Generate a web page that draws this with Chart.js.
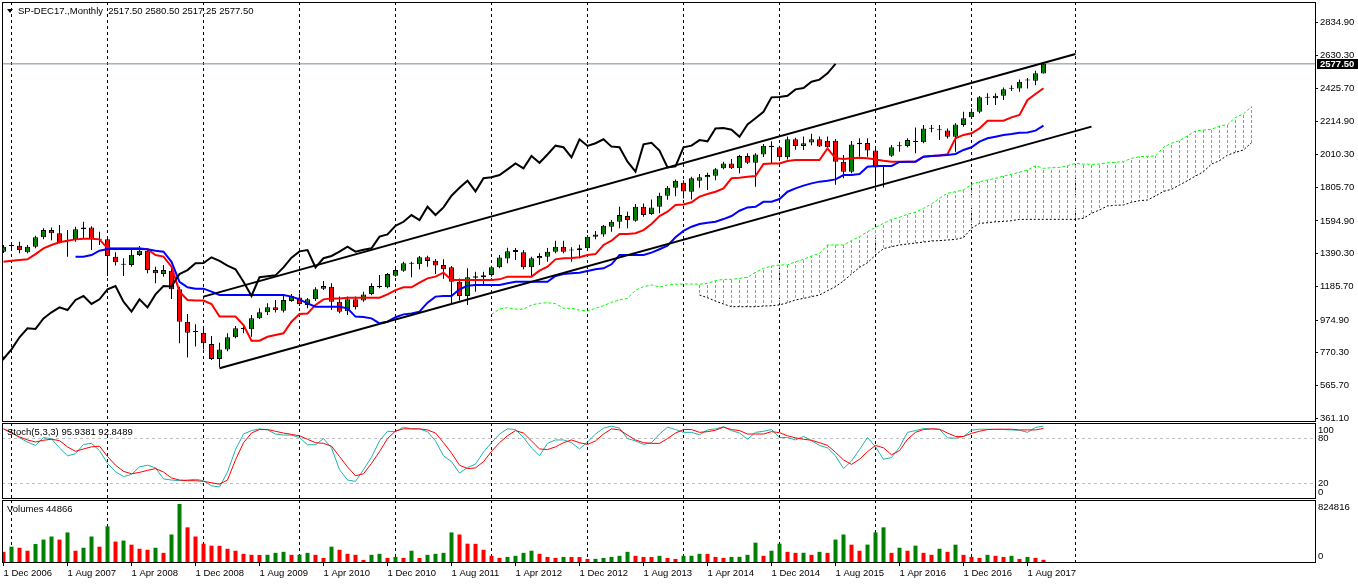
<!DOCTYPE html>
<html>
<head>
<meta charset="utf-8">
<title>SP-DEC17 Monthly</title>
<script src="https://cdn.jsdelivr.net/npm/chart.js@4.4.1/dist/chart.umd.min.js"></script>
<style>
  html, body { margin: 0; padding: 0; background: #fff; }
  #wrap { position: relative; width: 1358px; height: 584px; overflow: hidden; }
  #wrap canvas { position: absolute; left: 0; }
</style>
</head>
<body>
<div id="wrap">
  <canvas id="mainChart" width="1358" height="423" style="top:0"></canvas>
  <canvas id="stochChart" width="1358" height="76" style="top:423px"></canvas>
  <canvas id="volChart" width="1358" height="84" style="top:500px"></canvas>
</div>
<script>
// ---- data (one entry per monthly bar, Dec 2006 .. Oct 2017) ----
const symbolName = "SP-DEC17.,Monthly";
const xTickLabels = ["1 Dec 2006", "1 Aug 2007", "1 Apr 2008", "1 Dec 2008", "1 Aug 2009", "1 Apr 2010",
  "1 Dec 2010", "1 Aug 2011", "1 Apr 2012", "1 Dec 2012", "1 Aug 2013", "1 Apr 2014", "1 Dec 2014",
  "1 Aug 2015", "1 Apr 2016", "1 Dec 2016", "1 Aug 2017"];
const labelEvery = 8;
const yearLineBars = [1, 13, 25, 37, 49, 61, 73, 85, 97, 109, 121, 134];
const priceTicks = [361.10, 565.70, 770.30, 974.90, 1185.70, 1390.30, 1594.90, 1805.70,
  2010.30, 2214.90, 2425.70, 2630.30, 2834.90];

const opens = [
  1403, 1438, 1440, 1399, 1434, 1493, 1538, 1518, 1470, 1480,
  1543, 1555, 1482, 1480, 1372, 1322, 1320, 1382, 1409, 1288,
  1264, 1284, 1168, 965, 900, 896, 825, 732, 792, 868,
  924, 918, 986, 1024, 1055, 1034, 1094, 1117, 1070, 1105,
  1172, 1184, 1090, 1030, 1105, 1097, 1138, 1182, 1180, 1253,
  1284, 1328, 1324, 1368, 1347, 1320, 1305, 1215, 1126, 1240,
  1243, 1257, 1305, 1360, 1401, 1399, 1305, 1362, 1372, 1403,
  1434, 1411, 1413, 1424, 1497, 1511, 1559, 1590, 1626, 1597,
  1684, 1638, 1684, 1753, 1803, 1834, 1778, 1847, 1868, 1878,
  1924, 1955, 1924, 2001, 1959, 2011, 2066, 2056, 1993, 2106,
  2064, 2085, 2106, 2097, 2097, 1966, 1903, 2075, 2082, 2035,
  1932, 2003, 2062, 2064, 2089, 2087, 2172, 2162, 2160, 2122,
  2195, 2243, 2278, 2366, 2362, 2378, 2422, 2424, 2474, 2472,
  2517.50];
const highs = [
  1445, 1455, 1465, 1445, 1503, 1549, 1555, 1570, 1538, 1559,
  1590, 1562, 1528, 1493, 1399, 1362, 1418, 1439, 1424, 1309,
  1320, 1309, 1184, 1013, 949, 927, 876, 834, 893, 938,
  944, 1007, 1049, 1080, 1101, 1132, 1138, 1142, 1113, 1180,
  1220, 1205, 1122, 1122, 1122, 1153, 1205, 1257, 1270, 1299,
  1340, 1340, 1376, 1378, 1357, 1355, 1313, 1236, 1299, 1278,
  1278, 1315, 1382, 1428, 1426, 1413, 1372, 1393, 1426, 1472,
  1472, 1430, 1447, 1507, 1532, 1570, 1601, 1684, 1653, 1701,
  1705, 1730, 1772, 1814, 1855, 1849, 1872, 1889, 1897, 1926,
  1966, 1983, 2007, 2018, 2018, 2076, 2093, 2066, 2124, 2116,
  2124, 2141, 2124, 2124, 2107, 2007, 2095, 2112, 2112, 2056,
  1945, 2070, 2091, 2112, 2180, 2195, 2195, 2195, 2174, 2206,
  2278, 2299, 2376, 2393, 2393, 2430, 2443, 2480, 2489, 2534,
  2580.50];
const lows = [
  1395, 1424, 1393, 1393, 1424, 1480, 1474, 1455, 1372, 1465,
  1486, 1414, 1445, 1251, 1316, 1251, 1309, 1376, 1268, 1205,
  1247, 1107, 830, 742, 810, 792, 725, 680, 780, 861,
  893, 871, 982, 1007, 1022, 1022, 1090, 1063, 1049, 1094,
  1163, 1038, 1018, 1007, 1042, 1090, 1130, 1174, 1174, 1247,
  1278, 1243, 1293, 1309, 1263, 1234, 1080, 1097, 1070, 1153,
  1195, 1247, 1299, 1330, 1351, 1293, 1251, 1320, 1340, 1393,
  1393, 1340, 1362, 1413, 1480, 1497, 1528, 1549, 1549, 1590,
  1622, 1632, 1643, 1728, 1749, 1736, 1730, 1803, 1789, 1849,
  1918, 1920, 1893, 1951, 1809, 1995, 1955, 1972, 1980, 2041,
  2039, 2068, 2058, 2047, 1822, 1862, 1893, 1997, 1997, 1805,
  1805, 1997, 2028, 2056, 2018, 2081, 2150, 2101, 2111, 2028,
  2185, 2237, 2268, 2320, 2320, 2351, 2407, 2403, 2424, 2443,
  2517.25];
const closes = [
  1434, 1442, 1413, 1434, 1493, 1538, 1518, 1462, 1476, 1543,
  1555, 1486, 1478, 1376, 1337, 1328, 1384, 1409, 1288, 1268,
  1288, 1168, 965, 896, 905, 830, 732, 792, 868, 924,
  920, 986, 1024, 1055, 1038, 1101, 1126, 1076, 1105, 1168,
  1188, 1090, 1028, 1105, 1055, 1136, 1188, 1186, 1263, 1288,
  1330, 1332, 1368, 1345, 1316, 1293, 1215, 1126, 1243, 1250,
  1255, 1305, 1366, 1405, 1413, 1305, 1362, 1376, 1403, 1434,
  1403, 1415, 1424, 1497, 1511, 1565, 1590, 1632, 1601, 1684,
  1632, 1680, 1753, 1803, 1847, 1780, 1862, 1868, 1882, 1918,
  1955, 1924, 2001, 1959, 2011, 2066, 2056, 1993, 2106, 2064,
  2081, 2106, 2060, 2056, 1966, 1903, 2074, 2084, 2035, 1930,
  1936, 2056, 2066, 2101, 2093, 2174, 2176, 2166, 2122, 2199,
  2237, 2278, 2368, 2370, 2378, 2418, 2426, 2466, 2479, 2518,
  2577.50];

// Ichimoku lines as drawn
const tenkan = [
  1340, 1347, 1351, 1355, 1388, 1424, 1445, 1462, 1472, 1480,
  1484, 1484, 1480, 1424, 1424, 1424, 1424, 1424, 1418, 1382,
  1372, 1309, 1153, 1101, 1097, 1097, 1076, 997, 997, 997,
  944, 846, 846, 871, 882, 893, 965, 1013, 1017, 1070,
  1105, 1111, 1111, 1115, 1115, 1115, 1115, 1115, 1136, 1163,
  1180, 1180, 1209, 1236, 1247, 1272, 1226, 1226, 1226, 1226,
  1226, 1226, 1230, 1247, 1247, 1247, 1247, 1284, 1309, 1355,
  1362, 1364, 1368, 1382, 1388, 1445, 1472, 1514, 1514, 1518,
  1538, 1576, 1626, 1653, 1695, 1698, 1712, 1747, 1764, 1778,
  1799, 1862, 1866, 1872, 1876, 1951, 1955, 1955, 1970, 1976,
  1976, 1976, 1976, 2049, 1987, 1983, 1987, 1991, 1987, 1980,
  1972, 1966, 1966, 1966, 1966, 1997, 2001, 2005, 2012, 2112,
  2133, 2143, 2174, 2222, 2222, 2222, 2243, 2258, 2352, 2389,
  2425];
const kijunStart = 9;
const kijun = [
  1372,
  1372, 1382, 1409, 1420, 1420, 1420, 1420, 1420, 1418, 1409,
  1403, 1340, 1215, 1180, 1172, 1172, 1153, 1132, 1132, 1132,
  1132, 1132, 1132, 1132, 1132, 1132, 1122, 1105, 1080, 1059,
  1059, 1059, 1059, 1049, 997, 995, 986, 955, 965, 993,
  1011, 1017, 1028, 1084, 1122, 1126, 1126, 1168, 1190, 1195,
  1195, 1195, 1195, 1205, 1215, 1215, 1215, 1215, 1215, 1251,
  1263, 1268, 1272, 1282, 1293, 1299, 1324, 1382, 1382, 1382,
  1382, 1397, 1418, 1440, 1493, 1533, 1559, 1576, 1584, 1590,
  1607, 1626, 1659, 1680, 1684, 1715, 1715, 1732, 1778, 1799,
  1816, 1830, 1841, 1847, 1855, 1882, 1882, 1889, 1934, 1939,
  1939, 1939, 1964, 1966, 1966, 1997, 2001, 2005, 2007, 2014,
  2039, 2056, 2091, 2112, 2122, 2133, 2139, 2147, 2149, 2160,
  2191];
const chikouShift = 26;
const senkouAStart = 61;
const senkouA = [
  1011, 1044, 1053, 1044, 1043, 1070, 1080, 1084, 1078,
  1049, 1049, 1038, 1032, 1049, 1065, 1087, 1101, 1111, 1162,
  1184, 1195, 1182, 1195, 1199, 1201, 1201, 1199, 1205, 1222,
  1230, 1230, 1236, 1243, 1274, 1299, 1313, 1320, 1320, 1340,
  1355, 1376, 1393, 1445, 1445, 1445, 1472, 1497, 1528, 1555,
  1580, 1605, 1618, 1637, 1651, 1674, 1701, 1737, 1768, 1778,
  1789, 1824, 1841, 1851, 1862, 1876, 1887, 1900, 1914, 1941,
  1924, 1928, 1930, 1941, 1955, 1951, 1949, 1951, 1959, 1962,
  1966, 1987, 1997, 2000, 2001, 2056, 2081, 2097, 2128, 2158,
  2164, 2168, 2189, 2197, 2243, 2264, 2310];
const senkouBStart = 87;
const senkouB = [
  1132, 1115, 1094,
  1076, 1059, 1059, 1059, 1059, 1063, 1065, 1070, 1084, 1101,
  1111, 1122, 1132, 1159, 1184, 1220, 1263, 1305, 1334, 1382,
  1422, 1434, 1445, 1451, 1457, 1463, 1470, 1472, 1476, 1480,
  1491, 1549, 1580, 1584, 1590, 1592, 1597, 1605, 1605, 1605,
  1605, 1605, 1605, 1605, 1605, 1612, 1643, 1664, 1689, 1693,
  1695, 1712, 1722, 1726, 1751, 1780, 1793, 1820, 1847, 1876,
  1903, 1951, 1972, 2007, 2024, 2039, 2085];

// trend channel drawn on the chart: [bar, price] end points
const upperChannel = [[25, 1122], [134, 2639]];
const lowerChannel = [[27, 674], [136, 2185]];

// Stochastic(5,3,3)
const stochK = [
  92.3, 87.7, 80.5, 75, 70.5, 80.9, 79.1, 67.3, 56.8, 59.5,
  71.8, 73.2, 63.6, 46.8, 35.9, 29.5, 32.3, 42.3, 44.5, 40.9,
  26.4, 25, 24.1, 25, 25.9, 24.1, 17.3, 15.9, 35.5, 65,
  85.5, 90, 92.3, 90.9, 85.5, 84.1, 84.1, 80.9, 71.4, 71.4,
  79.5, 67.3, 38.6, 25, 23.2, 38.6, 55, 76.4, 89.1, 88.6,
  94.5, 92.3, 92.3, 88.6, 76.4, 56.8, 49.1, 34.1, 41.4, 45.9,
  61.8, 74.1, 85.5, 92.3, 91.4, 80.9, 67.3, 56.8, 73.2, 77.7,
  77.7, 74.1, 65.9, 75, 85.5, 93.2, 95.9, 93.2, 79.5, 76.4,
  71.8, 74.1, 85.5, 94.5, 91.4, 87.7, 87.7, 84.5, 90.9, 92.3,
  95, 90, 86.8, 78.6, 87.7, 89.1, 91.4, 80.9, 80.9, 77.7,
  82.3, 76.8, 70.5, 67.3, 56.8, 40, 50, 65, 80.9, 68.6,
  52.3, 54.5, 68.2, 87.7, 90, 92.7, 92.3, 91.4, 80.5, 80,
  82.3, 90.5, 91.8, 91.8, 91.4, 91.4, 90.9, 90.5, 87.7, 94.1,
  95.9381];
const stochD = [
  92.3, 86.8, 81.8, 77.7, 75, 77.3, 78.6, 76.8, 68.6, 62.7,
  65.9, 68.6, 69.5, 55.9, 44.5, 36.4, 33.2, 35, 37.7, 40,
  35.5, 27.7, 25, 24.1, 24.1, 23.2, 21.4, 19.5, 25, 51.4,
  74.1, 86.8, 91.4, 91.4, 89.1, 86.8, 85, 83.2, 78.6, 74.1,
  73.2, 69.5, 55.9, 42.3, 30.5, 33.2, 46.8, 62.3, 79.5, 89.5,
  92.3, 92.3, 92.3, 90.9, 86.8, 74.1, 60.5, 44.5, 40, 40.9,
  49.1, 62.7, 74.1, 83.2, 90, 86.8, 76.4, 65.9, 65, 68.6,
  74.1, 77.7, 74.1, 71.8, 76.4, 85.5, 92.3, 90.9, 84.1, 77.7,
  74.1, 73.2, 73.2, 79.5, 86.8, 91.4, 91.4, 87.7, 88.6, 90.5,
  94.5, 91.4, 90, 85.5, 85.5, 85.5, 88.6, 87.3, 83.2, 80.5,
  78.6, 77.3, 74.1, 70.5, 61.4, 51.4, 45.5, 52.3, 62.3, 70.5,
  67.3, 58.2, 63.6, 78.6, 87.7, 91.4, 92.3, 91.8, 86.8, 82.3,
  82.3, 86.4, 89.1, 91.4, 91.8, 91.8, 91.8, 90.9, 90.9, 90.9,
  92.8489];
const stochLevels = [20, 80];
const stochScaleLabels = [100, 80, 20, 0];

const volumes = [
  156000, 228000, 213000, 171000, 265000, 327000, 370000, 327000, 427000, 171000,
  213000, 370000, 228000, 512000, 299000, 313000, 256000, 199000, 185000, 213000,
  142000, 398000, 824816, 498000, 370000, 270000, 242000, 240000, 199000, 171000,
  128000, 114000, 113000, 115000, 142000, 156000, 114000, 116000, 142000, 114000,
  71000, 228000, 185000, 128000, 114000, 43000, 114000, 128000, 71000, 85000,
  71000, 171000, 70000, 114000, 128000, 142000, 427000, 398000, 270000, 268000,
  185000, 100000, 71000, 85000, 100000, 142000, 171000, 128000, 85000, 71000,
  85000, 84000, 83000, 57000, 58000, 71000, 85000, 100000, 156000, 100000,
  85000, 84000, 100000, 71000, 57000, 100000, 101000, 128000, 127000, 85000,
  71000, 85000, 86000, 114000, 284000, 100000, 171000, 270000, 156000, 142000,
  143000, 114000, 156000, 142000, 327000, 398000, 256000, 171000, 257000, 427000,
  498000, 142000, 213000, 171000, 242000, 142000, 114000, 199000, 156000, 256000,
  114000, 85000, 71000, 114000, 100000, 85000, 100000, 57000, 85000, 71000,
  44866];

// ---- look ----
const FONT = "'Liberation Sans', Arial, sans-serif";
const GREEN = "#008000", RED = "#ff0000";
const X_MIN = -0.1875, X_MAX = 163.9375;
const AXIS_W = 43;

Chart.defaults.font.family = FONT;
Chart.defaults.font.size = 9.5;
Chart.defaults.color = "#000";
Chart.defaults.animation = false;

const framePlugin = {
  id: "frame",
  afterDraw(chart) {
    const a = chart.chartArea, ctx = chart.ctx;
    ctx.save();
    ctx.strokeStyle = "#000";
    ctx.lineWidth = 1;
    ctx.strokeRect(Math.round(a.left) + 0.5, Math.round(a.top) + 0.5,
      Math.round(a.right - a.left), Math.round(a.bottom - a.top) - 1);
    ctx.restore();
  }
};

// panel caption + right side level labels for the small windows
function panelText(title, values) {
  return {
    id: "panelText",
    afterDraw(chart) {
      const { ctx, chartArea: a } = chart;
      const y = chart.scales.y;
      ctx.save();
      ctx.font = "9.5px " + FONT;
      ctx.fillStyle = "#000";
      ctx.textBaseline = "middle";
      ctx.textAlign = "left";
      ctx.fillText(title, a.left + 5, a.top + 9.5);
      values.forEach(v => {
        const py = Math.min(Math.max(y.getPixelForValue(v), a.top + 7), a.bottom - 7);
        ctx.fillText(String(v), a.right + 3, py);
      });
      ctx.restore();
    }
  };
}

const headerPlugin = {
  id: "header",
  afterDraw(chart) {
    const { ctx, chartArea: a, scales } = chart;
    const n = closes.length - 1;
    ctx.save();
    ctx.fillStyle = "#000";
    ctx.beginPath();
    ctx.moveTo(a.left + 5, a.top + 7);
    ctx.lineTo(a.left + 11, a.top + 7);
    ctx.lineTo(a.left + 8, a.top + 11);
    ctx.closePath();
    ctx.fill();
    ctx.font = "9.5px " + FONT;
    ctx.textBaseline = "middle";
    const txt = symbolName + "  " + [opens[n], highs[n], lows[n], closes[n]].map(v => v.toFixed(2)).join(" ");
    ctx.fillText(txt, a.left + 16, a.top + 9);
    // last price marker on the price scale
    const py = Math.round(scales.y.getPixelForValue(closes[n]));
    ctx.fillRect(a.right + 2, py - 5, AXIS_W - 2, 10);
    ctx.fillStyle = "#fff";
    ctx.font = "bold 9.5px " + FONT;
    ctx.fillText(closes[n].toFixed(2), a.right + 5, py);
    ctx.restore();
  }
};

// keep Chart.js from reserving room for half-labels at the ends of an axis
function noEdgePadding(s) {
  s.paddingTop = 0; s.paddingBottom = 0; s.paddingLeft = 0; s.paddingRight = 0;
}

function yearGridAxis() {
  return {
    type: "linear", position: "bottom", min: X_MIN, max: X_MAX, offset: false,
    afterBuildTicks: s => { s.ticks = yearLineBars.map(v => ({ value: v })); },
    afterFit: s => { s.height = 0; noEdgePadding(s); },
    ticks: { display: false, autoSkip: false },
    grid: { color: "#000", lineWidth: 1, drawTicks: false, offset: false },
    border: { display: false, dash: [3, 3] }
  };
}

function hatchPattern() {
  const c = document.createElement("canvas");
  c.width = 1; c.height = 5;
  const g = c.getContext("2d");
  g.fillStyle = "#00ff00";
  g.fillRect(0, 0, 1, 3);
  return g.createPattern(c, "repeat");
}

const pts = (arr, start) => arr.map((v, i) => ({ x: start + i, y: v }));
const last = closes.length - 1;

// ---- main price window ----
const kumo = senkouB.map((b, i) => {
  const k = senkouBStart + i;
  return { x: k, y: [b, senkouA[k - senkouAStart]] };
});

new Chart(document.getElementById("mainChart"), {
  type: "bar",
  data: {
    datasets: [
      { type: "line", label: "channel up", data: upperChannel.map(p => ({ x: p[0], y: p[1] })),
        borderColor: "#000", borderWidth: 2, pointRadius: 0, order: 1 },
      { type: "line", label: "channel down", data: lowerChannel.map(p => ({ x: p[0], y: p[1] })),
        borderColor: "#000", borderWidth: 2, pointRadius: 0, order: 1 },
      { type: "line", label: "Chikou Span", data: closes.map((c, i) => ({ x: i - chikouShift, y: c })),
        borderColor: "#000", borderWidth: 2, pointRadius: 0, order: 2, clip: 0 },
      { type: "line", label: "Senkou Span B", data: pts(senkouB, senkouBStart),
        borderColor: "#000", borderWidth: 1, borderDash: [2, 2], pointRadius: 0, order: 3 },
      { type: "line", label: "Senkou Span A", data: pts(senkouA, senkouAStart),
        borderColor: "#00ff00", borderWidth: 1, borderDash: [3, 2], pointRadius: 0, order: 3 },
      { type: "line", label: "Kijun-sen", data: pts(kijun, kijunStart),
        borderColor: "#0000ff", borderWidth: 2, pointRadius: 0, order: 4 },
      { type: "line", label: "Tenkan-sen", data: pts(tenkan, 0),
        borderColor: "#ff0000", borderWidth: 2, pointRadius: 0, order: 5 },
      { type: "bar", label: "bodies", data: closes.map((c, i) => ({ x: i, y: [opens[i], c] })),
        backgroundColor: closes.map((c, i) => c >= opens[i] ? GREEN : RED),
        borderColor: "#000", borderWidth: 1, borderSkipped: false, barThickness: 5,
        minBarLength: 1, inflateAmount: 0, grouped: false, order: 6 },
      { type: "bar", label: "wicks", data: closes.map((c, i) => ({ x: i, y: [lows[i], highs[i]] })),
        backgroundColor: "#000", borderWidth: 0, barThickness: 1, inflateAmount: 0, grouped: false, order: 7 },
      { type: "bar", label: "Kumo", data: kumo, backgroundColor: hatchPattern(),
        borderWidth: 0, barThickness: 1, inflateAmount: 0, grouped: false, order: 8 },
      { type: "line", label: "bid", data: [{ x: X_MIN, y: closes[last] }, { x: X_MAX, y: closes[last] }],
        borderColor: "#778899", borderWidth: 1, pointRadius: 0, order: 9 }
    ]
  },
  options: {
    responsive: false,
    animation: false,
    events: [],
    layout: { padding: { top: 2, bottom: 1, left: 2, right: 0 } },
    plugins: { legend: { display: false }, tooltip: { enabled: false } },
    elements: { line: { tension: 0, fill: false }, point: { radius: 0 } },
    scales: {
      x: yearGridAxis(),
      y: {
        type: "linear", position: "right", min: 338.0, max: 2964.3,
        afterBuildTicks: s => { s.ticks = priceTicks.map(v => ({ value: v })); },
        afterFit: s => { s.width = AXIS_W; noEdgePadding(s); },
        ticks: { callback: v => v.toFixed(2), padding: 2, autoSkip: false },
        grid: { drawOnChartArea: false, tickLength: 3, tickColor: "#000" },
        border: { display: false }
      }
    }
  },
  plugins: [framePlugin, headerPlugin]
});

// ---- stochastic window ----
new Chart(document.getElementById("stochChart"), {
  type: "line",
  data: {
    datasets: [
      { label: "Signal", data: pts(stochD, 0), borderColor: "#ff0000", borderWidth: 1, pointRadius: 0, order: 1 },
      { label: "Main", data: pts(stochK, 0), borderColor: "#20b2aa", borderWidth: 1, pointRadius: 0, order: 2 }
    ]
  },
  options: {
    responsive: false,
    animation: false,
    events: [],
    layout: { padding: { top: 0, bottom: 0, left: 2, right: 0 } },
    plugins: { legend: { display: false }, tooltip: { enabled: false } },
    elements: { line: { tension: 0 } },
    scales: {
      x: yearGridAxis(),
      y: {
        type: "linear", position: "right", min: 0, max: 100,
        afterBuildTicks: s => { s.ticks = stochScaleLabels.map(v => ({ value: v })); },
        afterFit: s => { s.width = AXIS_W; noEdgePadding(s); },
        ticks: { display: false },
        grid: {
          drawTicks: false,
          color: c => stochLevels.includes(c.tick.value) ? "#c0c0c0" : "rgba(0,0,0,0)"
        },
        border: { display: false, dash: [3, 3] }
      }
    }
  },
  plugins: [framePlugin, panelText("Stoch(5,3,3) " + stochK[last].toFixed(4) + " " + stochD[last].toFixed(4), stochScaleLabels)]
});

// ---- volume window + time axis ----
new Chart(document.getElementById("volChart"), {
  type: "bar",
  data: {
    datasets: [{
      label: "Volumes", data: pts(volumes, 0),
      backgroundColor: volumes.map((v, i) => i > 0 && v > volumes[i - 1] ? GREEN : RED),
      borderWidth: 0, barThickness: 4, inflateAmount: 0, grouped: false
    }]
  },
  options: {
    responsive: false,
    animation: false,
    events: [],
    layout: { padding: { top: 0, bottom: 0, left: 2, right: 0 } },
    plugins: { legend: { display: false }, tooltip: { enabled: false } },
    scales: {
      x: {
        type: "linear", position: "bottom", min: X_MIN, max: X_MAX, offset: false,
        afterBuildTicks: s => { s.ticks = xTickLabels.map((t, i) => ({ value: i * labelEvery })); },
        afterFit: s => { s.height = 21; noEdgePadding(s); },
        ticks: { callback: (v, i) => xTickLabels[i], align: "start", autoSkip: false, maxRotation: 0, padding: 2 },
        grid: { drawOnChartArea: false, tickLength: 3, tickColor: "#000", offset: false },
        border: { display: false }
      },
      xg: yearGridAxis(),
      y: {
        type: "linear", position: "right", min: 0, max: 880000,
        afterFit: s => { s.width = AXIS_W; noEdgePadding(s); },
        ticks: { display: false },
        grid: { display: false },
        border: { display: false }
      }
    }
  },
  plugins: [framePlugin, panelText("Volumes " + volumes[last], [Math.max(...volumes), 0])]
});
</script>
</body>
</html>
